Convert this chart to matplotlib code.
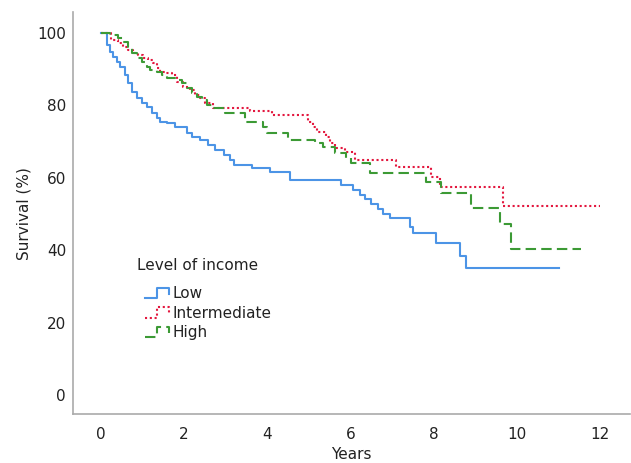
import matplotlib
matplotlib.use("Agg")
import matplotlib.pyplot as plt
from matplotlib.lines import Line2D
from matplotlib.legend_handler import HandlerLine2D

# ---------------- data ----------------
low_t = [0, 0.14, 0.22, 0.29, 0.38, 0.46, 0.58, 0.65, 0.74, 0.86, 0.98, 1.10, 1.22,
         1.34, 1.42, 1.58, 1.78, 2.06, 2.20, 2.38, 2.57, 2.75, 2.95, 3.10, 3.20,
         3.62, 4.06, 4.54, 5.78, 6.05, 6.22, 6.34, 6.50, 6.65, 6.77, 6.94, 7.42,
         7.50, 8.06, 8.62, 8.76, 11.0]
low_s = [100, 96.7, 94.8, 93.4, 92.0, 90.6, 88.4, 86.2, 83.7, 82.0, 80.7, 79.6, 77.9,
         76.5, 75.4, 75.1, 74.0, 72.4, 71.3, 70.4, 69.0, 67.7, 66.3, 64.9, 63.5,
         62.7, 61.6, 59.5, 58.0, 56.6, 55.2, 54.1, 52.8, 51.4, 50.0, 48.9, 46.4,
         44.8, 42.0, 38.4, 35.1, 35.1]

mid_t = [0, 0.25, 0.41, 0.53, 0.65, 0.77, 0.89, 1.01, 1.13, 1.25, 1.34, 1.42, 1.54,
         1.70, 1.82, 1.97, 2.14, 2.26, 2.38, 2.50, 2.70, 3.58, 4.10, 4.97, 5.10,
         5.20, 5.40, 5.50, 5.62, 5.86, 6.10, 7.10, 7.94, 8.14, 9.67, 11.98]
mid_s = [100, 98.0, 97.2, 96.1, 95.3, 94.5, 93.9, 93.1, 92.5, 91.7, 90.3, 89.2, 88.9,
         88.4, 86.5, 85.1, 84.3, 82.9, 82.0, 80.7, 79.3, 78.5, 77.3, 75.4, 74.0,
         72.6, 71.3, 69.6, 68.2, 67.1, 64.9, 63.0, 60.2, 57.5, 52.2, 52.2]

high_t = [0, 0.22, 0.40, 0.53, 0.65, 0.74, 0.86, 0.98, 1.10, 1.18, 1.34, 1.46, 1.60,
          1.78, 1.94, 2.06, 2.18, 2.30, 2.42, 2.55, 2.70, 2.98, 3.46, 3.90, 4.00,
          4.50, 5.14, 5.33, 5.62, 5.90, 6.02, 6.46, 7.82, 8.18, 8.90, 9.58, 9.86, 11.54]
high_s = [100, 99.4, 98.6, 97.5, 96.1, 94.5, 93.1, 92.0, 90.6, 89.8, 89.2, 88.4, 87.6,
          87.0, 86.2, 84.8, 83.4, 82.3, 81.5, 80.1, 79.3, 77.9, 75.4, 74.0, 72.4,
          70.4, 69.5, 68.5, 66.9, 65.5, 64.1, 61.3, 58.8, 55.8, 51.7, 47.2, 40.3, 40.3]

labels = ["Low", "Intermediate", "High"]
legend_title = "Level of income"
x_ticks = [0, 2, 4, 6, 8, 10, 12]
y_ticks = [0, 20, 40, 60, 80, 100]

colors = ["#4C94E6", "#E3173E", "#3C9A35"]

plt.rcParams['font.family'] = ['DejaVu Sans']

W, H = 631, 463
fig = plt.figure(figsize=(W / 100, H / 100), dpi=100)
ax = fig.add_axes([0.1157, 0.1058, 0.882, 0.868])

lw = 1.5
l1, = ax.step(low_t, low_s, where='post', color=colors[0], lw=lw, label=labels[0])
l2, = ax.step(mid_t, mid_s, where='post', color=colors[1], lw=lw, label=labels[1],
              dashes=(1, 1.3))
l3, = ax.step(high_t, high_s, where='post', color=colors[2], lw=lw, label=labels[2],
              dashes=(5, 2.5))

ax.set_xlim(-0.67, 12.7)
ax.set_ylim(-5.25, 105.8)
ax.set_xticks(x_ticks)
ax.set_yticks(y_ticks)
ax.tick_params(length=0, labelsize=11, colors="#222222")
ax.tick_params(axis='x', pad=9)
ax.tick_params(axis='y', pad=5)
for s in ['top', 'right']:
    ax.spines[s].set_visible(False)
for s in ['left', 'bottom']:
    ax.spines[s].set_color("#AAAAAA")
    ax.spines[s].set_linewidth(1.2)

ax.set_xlabel("Years", fontsize=11, labelpad=4, color="#222222")
ax.set_ylabel("Survival (%)", fontsize=11, labelpad=4, color="#222222")


class StepHandler(HandlerLine2D):
    def create_artists(self, legend, orig_handle, xdescent, ydescent, width,
                       height, fontsize, trans):
        x0 = -xdescent
        y0 = -ydescent
        xs = [x0, x0 + 0.5 * width, x0 + 0.5 * width, x0 + width, x0 + width]
        ys = [y0 + 0.0 * height, y0 + 0.0 * height, y0 + 0.95 * height,
              y0 + 0.95 * height, y0 + 0.35 * height]
        line = Line2D(xs, ys)
        self.update_prop(line, orig_handle, legend)
        line.set_transform(trans)
        return [line]


fig.text(137 / W, 1 - 266 / H, legend_title, fontsize=11, color="#222222",
         ha='left', va='center')

leg = fig.legend(handles=[l1, l2, l3], frameon=False,
                 loc='upper left', bbox_to_anchor=(145 / W, 1 - 286 / H),
                 bbox_transform=fig.transFigure, borderpad=0, borderaxespad=0,
                 fontsize=11, handlelength=1.6, handletextpad=0.2,
                 labelspacing=0.3, handler_map={Line2D: StepHandler()})
for t in leg.get_texts():
    t.set_color("#222222")

fig.savefig("out.png", dpi=100)
